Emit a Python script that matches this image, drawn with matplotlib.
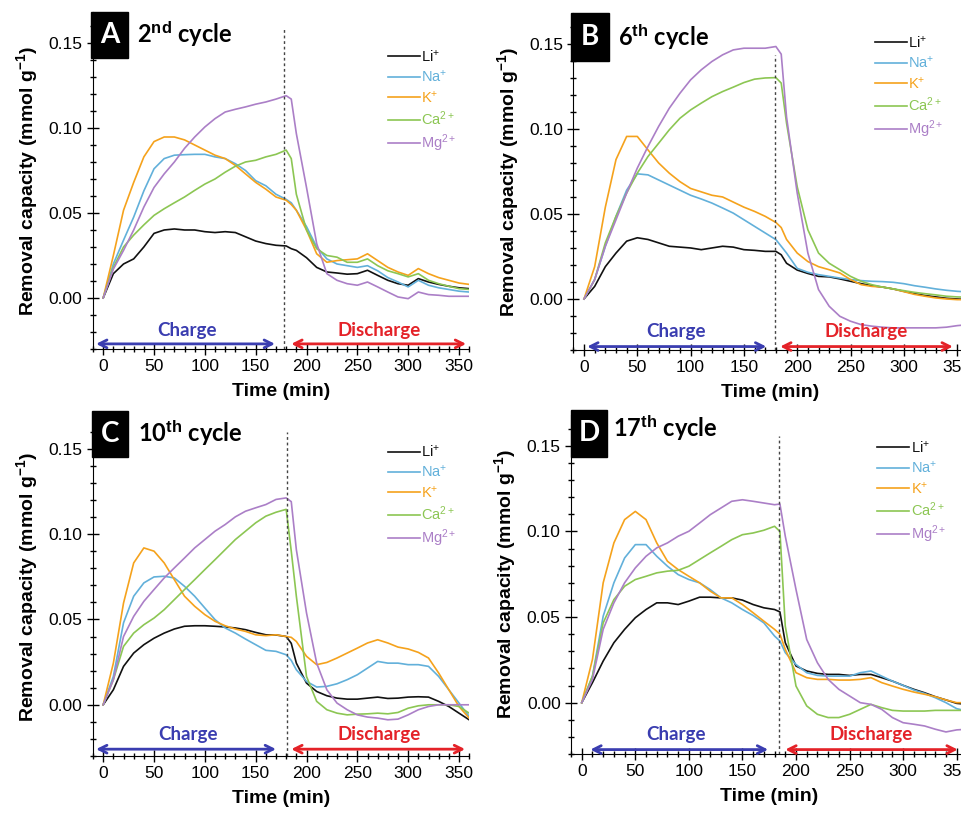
import matplotlib
matplotlib.use("Agg")
from matplotlib import pyplot as plt
from matplotlib.patches import Rectangle
from matplotlib.ticker import MultipleLocator, FormatStrFormatter

plt.rcParams['font.family'] = ['Liberation Sans', 'DejaVu Sans']
plt.rcParams['mathtext.fontset'] = 'custom'
plt.rcParams['mathtext.rm'] = 'Liberation Sans'
plt.rcParams['mathtext.bf'] = 'Liberation Sans:bold'
plt.rcParams['mathtext.it'] = 'Liberation Sans:italic'

# time grid (min), same for all four cycles
time_min = [0, 10, 20, 30, 40, 50, 60, 70, 80, 90, 100, 110, 120, 130, 140, 150, 160, 170, 180,
            185, 190, 200, 210, 220, 230, 240, 250, 260, 270, 280, 290, 300, 310, 320, 330, 340, 350, 360]

ions = ['Li$^{+}$', 'Na$^{+}$', 'K$^{+}$', 'Ca$^{2+}$', 'Mg$^{2+}$']
ion_colors = ['#111111', '#62b0da', '#f5a21c', '#8cc653', '#ab7fc7']

panel_letters = ['A', 'B', 'C', 'D']
cycle_labels = [r'2$^{\mathbf{nd}}$ cycle', r'6$^{\mathbf{th}}$ cycle',
                r'10$^{\mathbf{th}}$ cycle', r'17$^{\mathbf{th}}$ cycle']
switch_min = [178, 179, 181, 184]

# ---- A: 2nd cycle
li_A = [0, .0143, .020, .023, .030, .038, .040, .0406, .040, .040, .039, .0385, .039, .0385, .036, .0335, .032, .031, .0306,
        .029, .028, .0237, .018, .0153, .0147, .014, .0143, .0163, .0133, .0104, .0084, .0075, .0114, .0094, .008, .0069, .006, .0055]
na_A = [0, .020, .034, .0476, .063, .076, .082, .084, .0843, .0845, .0845, .083, .082, .079, .075, .069, .066, .061, .058,
        .056, .0516, .042, .030, .023, .020, .019, .018, .019, .016, .012, .0094, .0065, .0104, .0075, .006, .005, .004, .0035]
k_A = [0, .025, .0516, .068, .083, .092, .0947, .0947, .093, .090, .087, .084, .082, .078, .073, .068, .064, .0594, .0575,
       .055, .0516, .040, .026, .021, .022, .0225, .023, .026, .022, .018, .0153, .0133, .0173, .0143, .012, .0104, .0088, .008]
ca_A = [0, .018, .030, .037, .043, .0486, .0525, .056, .0594, .0633, .067, .070, .074, .0775, .080, .081, .083, .0845, .087,
        .082, .061, .040, .029, .025, .024, .021, .021, .023, .019, .016, .0143, .0124, .0143, .0104, .0084, .0069, .0055, .005]
mg_A = [0, .017, .028, .040, .0535, .065, .073, .080, .088, .0947, .1006, .1055, .1094, .111, .1124, .114, .1153, .117, .119,
        .117, .0967, .065, .032, .0143, .0104, .0084, .0075, .0094, .0065, .0035, .0006, -.0004, .0035, .002, .0016, .001, .001, .001]

# ---- B: 6th cycle
li_B = [0, .0074, .019, .027, .034, .036, .035, .033, .031, .0305, .030, .029, .030, .031, .0305, .029, .0286, .028, .028,
        .026, .021, .017, .015, .0133, .013, .0118, .0104, .009, .0078, .007, .0059, .0045, .0031, .002, .0012, .0004, 0, -.0004]
na_B = [0, .0114, .031, .0486, .064, .0736, .073, .070, .067, .064, .061, .0588, .0564, .0535, .0505, .0466, .0427, .0388, .0349,
        .031, .027, .018, .0157, .0143, .0133, .0123, .0114, .0108, .0104, .0102, .0098, .009, .0078, .0069, .0059, .0051, .0045, .0041]
k_B = [0, .019, .054, .082, .0956, .0956, .0877, .080, .074, .069, .065, .063, .061, .060, .057, .054, .0515, .0486, .045,
       .042, .035, .027, .022, .019, .0172, .0153, .0114, .0084, .0074, .007, .0059, .0043, .0027, .0016, .0006, 0, -.0004, -.0004]
ca_B = [0, .0114, .033, .0486, .0623, .074, .0838, .0916, .0995, .1063, .1112, .1152, .119, .122, .1246, .1273, .1293, .130, .1302,
        .127, .1034, .066, .0407, .027, .021, .0172, .0133, .0104, .0084, .007, .0059, .0049, .0039, .0031, .0024, .0016, .0012, .001]
mg_B = [0, .0114, .031, .0466, .0623, .077, .0897, .1015, .1122, .121, .1289, .1348, .1397, .1436, .1465, .1475, .1475, .1475, .1485,
        .144, .107, .0623, .027, .0055, -.0043, -.0102, -.0131, -.0151, -.016, -.0166, -.017, -.017, -.017, -.017, -.017, -.0166, -.0157, -.0151]

# ---- C: 10th cycle
li_C = [0, .0088, .0225, .0303, .0352, .039, .042, .0444, .046, .0463, .0463, .046, .0456, .045, .044, .0424, .041, .0409, .040,
        .036, .0244, .0127, .0078, .0053, .0039, .0033, .0033, .0039, .0045, .0037, .0039, .0045, .0047, .0045, .002, -.001, -.0049, -.0088]
na_C = [0, .0166, .048, .0636, .0714, .0749, .0753, .0743, .0694, .0636, .0567, .0499, .045, .042, .0385, .0352, .0319, .0313, .0293,
        .026, .0205, .0137, .0104, .0108, .0123, .0147, .0176, .0215, .0254, .0244, .0244, .0235, .0235, .0225, .0166, .0088, .001, -.0068]
k_C = [0, .0244, .0596, .0831, .0919, .090, .0831, .0733, .0636, .0577, .0528, .0489, .0463, .0444, .043, .041, .0405, .041, .040,
       .0395, .0371, .0284, .0235, .0248, .0274, .0303, .0332, .0362, .0381, .0362, .0338, .0327, .0307, .0274, .0186, .0088, -.001, -.0078]
ca_C = [0, .0147, .0342, .042, .0469, .0508, .0557, .0616, .0675, .0733, .0792, .085, .0909, .0968, .1017, .1066, .1105, .1128, .1145,
        .090, .0636, .0166, .002, -.0029, -.0049, -.0059, -.0055, -.0053, -.0049, -.0053, -.0045, -.002, -.0006, 0, 0, 0, -.001, -.0049]
mg_C = [0, .0147, .040, .0518, .0606, .0675, .0743, .0802, .086, .0919, .0968, .1017, .1056, .1101, .1134, .1154, .1173, .1203, .1212,
        .119, .0909, .0538, .0244, .0088, .001, -.0029, -.0059, -.0072, -.0078, -.0088, -.0084, -.0059, -.0029, -.001, 0, 0, 0, 0]

# ---- D: 17th cycle
li_D = [0, .0117, .0243, .035, .0428, .0496, .0544, .0583, .0583, .0573, .0593, .0616, .0616, .0612, .0612, .0599, .0573, .0554, .0544,
        .053, .035, .0214, .0185, .0171, .0165, .0165, .0159, .0165, .0165, .0146, .0126, .0101, .0078, .0058, .0035, .0016, -.0004, -.001]
na_D = [0, .0155, .0505, .070, .0845, .0923, .0923, .0855, .0797, .0748, .0719, .070, .066, .0612, .0583, .0544, .0509, .0466, .0389,
        .036, .0292, .0223, .0175, .0159, .0155, .0155, .0155, .0175, .0185, .0155, .0126, .0101, .0074, .0054, .0029, 0, -.0035, -.0049]
k_D = [0, .0253, .070, .0933, .1069, .1117, .1069, .0933, .0826, .0777, .0738, .070, .0651, .0612, .0612, .0573, .0525, .0476, .0428,
       .040, .0311, .0175, .0146, .0136, .0136, .0132, .0132, .0136, .0146, .0117, .0097, .0078, .0062, .0049, .0035, .0016, 0, 0]
ca_D = [0, .0155, .0466, .0602, .068, .0719, .0738, .0758, .0768, .0773, .0797, .0836, .0875, .0913, .0952, .0981, .0991, .1007, .103,
        .100, .0447, .0097, -.0019, -.0068, -.0087, -.0087, -.0068, -.0039, -.001, -.0029, -.0045, -.0049, -.0049, -.0049, -.0045, -.0045, -.0045, -.0045]
mg_D = [0, .0136, .0428, .0583, .070, .0787, .0855, .0904, .0933, .0972, .1001, .1049, .1098, .1137, .1176, .1185, .1176, .1166, .1156,
        .116, .0972, .0661, .0369, .0233, .0136, .0078, .0039, 0, -.001, -.0039, -.0087, -.0117, -.0126, -.0136, -.0155, -.0171, -.0159, -.0155]

panel_data = [[li_A, na_A, k_A, ca_A, mg_A],
              [li_B, na_B, k_B, ca_B, mg_B],
              [li_C, na_C, k_C, ca_C, mg_C],
              [li_D, na_D, k_D, ca_D, mg_D]]

# layout (figure fractions / data coords per panel)
axes_rects = [[0.0967, 0.5718, 0.391, 0.413],
              [0.596, 0.5706, 0.41, 0.413],
              [0.0967, 0.0724, 0.391, 0.4147],
              [0.5936, 0.0748, 0.412, 0.416]]
legend_anchor = [(0.783, 0.893), (0.764, 0.937), (0.783, 0.924), (0.772, 0.928)]
box_rects = [(-12, 0.141, 36, 0.027), (-12.5, 0.140, 35.5, 0.028),
             (-11, 0.145, 35, 0.027), (-10.5, 0.1436, 34.5, 0.0274)]
title_pos = [(33, 0.155), (32, 0.154), (34, 0.159), (29, 0.1605)]
dash_top = [0.158, 0.1435, 0.160, 0.156]
charge_arrow = [(-7, 169), (3, 171), (-7, 170), (8, 174)]
discharge_arrow = [(185, 357), (184, 346), (185, 356), (190, 351)]
arrow_y = [-0.027, -0.028, -0.026, -0.0274]
charge_text = [(82, -0.019), (86, -0.0194), (83, -0.0176), (88, -0.0187)]
discharge_text = [(271, -0.019), (265, -0.0194), (271, -0.0176), (270, -0.0187)]

charge_color = '#3a3db0'
discharge_color = '#e42228'

fig = plt.figure(figsize=(9.62, 8.15), dpi=100)

for p in range(4):
    ax = fig.add_axes(axes_rects[p])
    for s in range(5):
        ax.plot(time_min, panel_data[p][s], color=ion_colors[s], lw=1.2, label=ions[s])

    ax.set_xlim(-10, 360)
    ax.set_ylim(-0.03, 0.168)
    ax.spines['top'].set_visible(False)
    ax.spines['right'].set_visible(False)
    ax.xaxis.set_major_locator(MultipleLocator(50))
    ax.xaxis.set_minor_locator(MultipleLocator(10))
    ax.yaxis.set_major_locator(MultipleLocator(0.05))
    ax.yaxis.set_minor_locator(MultipleLocator(0.01))
    ax.yaxis.set_major_formatter(FormatStrFormatter('%.2f'))
    ax.tick_params(which='major', direction='inout', length=8, width=1, labelsize=12.5)
    ax.tick_params(which='minor', direction='inout', length=4, width=1)
    ax.set_yticks([0.0, 0.05, 0.10, 0.15])

    ax.set_xlabel('Time (min)', fontsize=14, fontweight='bold', labelpad=6)
    ax.set_ylabel(r'Removal capacity (mmol g$^{\mathbf{-1}}$)', fontsize=14, fontweight='bold', labelpad=6)

    ax.vlines(switch_min[p], -0.03, dash_top[p], colors='#444444', linestyles=(0, (2, 2)), lw=1)

    # charge / discharge arrows
    ax.annotate('', xy=(charge_arrow[p][1], arrow_y[p]), xytext=(charge_arrow[p][0], arrow_y[p]),
                arrowprops=dict(arrowstyle='<->', color=charge_color, lw=2, mutation_scale=14,
                                shrinkA=0, shrinkB=0))
    ax.annotate('', xy=(discharge_arrow[p][1], arrow_y[p]), xytext=(discharge_arrow[p][0], arrow_y[p]),
                arrowprops=dict(arrowstyle='<->', color=discharge_color, lw=2, mutation_scale=14,
                                shrinkA=0, shrinkB=0))
    ax.text(charge_text[p][0], charge_text[p][1], 'Charge', color=charge_color, fontsize=13.5,
            fontweight='bold', family='Lato', ha='center', va='center')
    ax.text(discharge_text[p][0], discharge_text[p][1], 'Discharge', color=discharge_color, fontsize=13.5,
            fontweight='bold', family='Lato', ha='center', va='center')

    # panel letter box and title
    bx, by, bw, bh = box_rects[p]
    ax.add_patch(Rectangle((bx, by), bw, bh, facecolor='black', edgecolor='black',
                           clip_on=False, zorder=5))
    ax.text(bx + bw / 2, by + bh / 2, panel_letters[p], color='white', fontsize=20,
            fontweight='bold', family='Lato', ha='center', va='center', zorder=6)
    ax.text(title_pos[p][0], title_pos[p][1], cycle_labels[p], fontsize=17, fontweight='bold',
            family='Lato', ha='left', va='center')

    leg = ax.legend(loc='upper left', bbox_to_anchor=legend_anchor[p], frameon=False,
                    fontsize=10.5, handlelength=2.2, handletextpad=0.1, labelspacing=0.3,
                    borderpad=0, borderaxespad=0)
    for txt, c in zip(leg.get_texts(), ion_colors):
        txt.set_color(c)

fig.savefig('out.png', dpi=100)
